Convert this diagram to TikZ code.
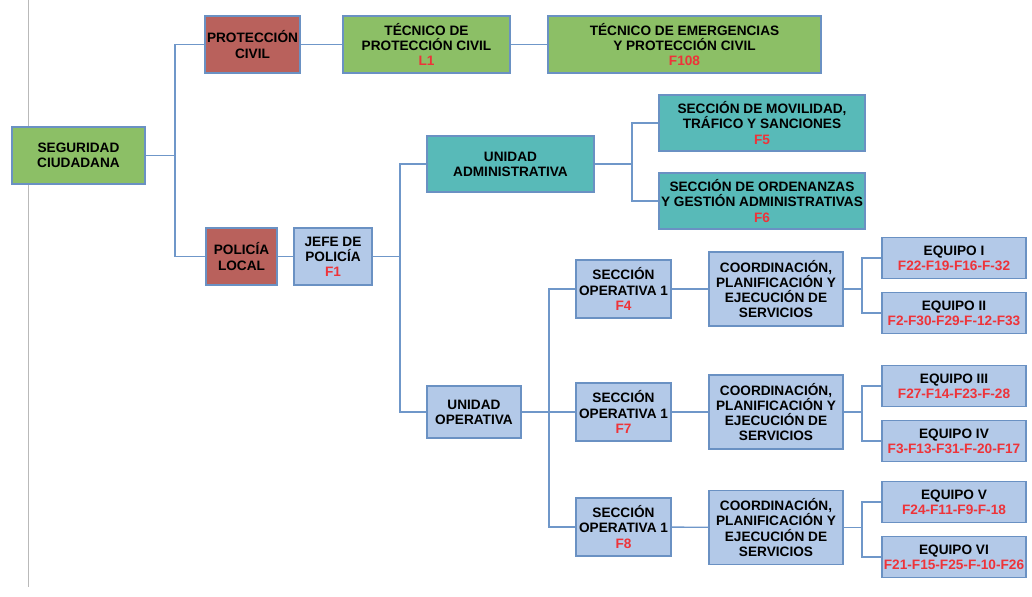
\documentclass[tikz,border=0pt]{standalone}
\usepackage{fontspec}
\setmainfont{Liberation Sans}
\usepackage{tikz}

\definecolor{boxline}{HTML}{6A91C3}
\definecolor{wire}{HTML}{6F97C9}
\definecolor{greenfill}{HTML}{8CBF66}
\definecolor{redfill}{HTML}{B9615C}
\definecolor{tealfill}{HTML}{58BAB8}
\definecolor{bluefill}{HTML}{B3C9E8}
\definecolor{codered}{HTML}{EE3339}

\tikzset{
  box/.style={draw=boxline, line width=0.9pt, align=center, inner sep=0pt,
    font=\fontsize{9.7}{10.8}\selectfont\bfseries},
  greenbox/.style={box, fill=greenfill},
  redbox/.style={box, fill=redfill},
  tealbox/.style={box, fill=tealfill},
  bluebox/.style={box, fill=bluefill},
  wireline/.style={draw=wire, line width=1pt}
}
\newcommand{\code}[1]{\textcolor{codered}{#1}}

\begin{document}
\begin{tikzpicture}[x=0.025cm, y=-0.025cm]
\useasboundingbox (0,0) rectangle (1032,597);

\draw[gray!55, line width=0.7pt] (28,0) -- (28,587);

\node[greenbox, minimum width=3.325cm, minimum height=1.425cm] (seguridad) at (78.5,155.5) {SEGURIDAD\\CIUDADANA};

\node[redbox, minimum width=2.375cm, minimum height=1.425cm] (proteccion) at (252.5,44.5) {PROTECCIÓN\\CIVIL};
\node[greenbox, minimum width=4.175cm, minimum height=1.425cm] (tecnico) at (426.5,44.5) {TÉCNICO DE\\PROTECCIÓN CIVIL\\\code{L1}};
\node[greenbox, minimum width=6.825cm, minimum height=1.425cm] (emergencias) at (684.5,44.5) {TÉCNICO DE EMERGENCIAS\\Y PROTECCIÓN CIVIL\\\code{F108}};

\node[redbox, minimum width=1.775cm, minimum height=1.425cm] (policia) at (241.5,256.5) {POLICÍA\\LOCAL};
\node[bluebox, minimum width=1.95cm, minimum height=1.425cm] (jefe) at (333,256.5) {JEFE DE\\POLICÍA\\\code{F1}};

\node[tealbox, minimum width=4.175cm, minimum height=1.4cm] (administrativa) at (510.5,164) {UNIDAD\\ADMINISTRATIVA};
\node[tealbox, minimum width=5.15cm, minimum height=1.4cm] (movilidad) at (762,123) {SECCIÓN DE MOVILIDAD,\\TRÁFICO Y SANCIONES\\\code{F5}};
\node[tealbox, minimum width=5.15cm, minimum height=1.4cm] (ordenanzas) at (762,201) {SECCIÓN DE ORDENANZAS\\Y GESTIÓN ADMINISTRATIVAS\\\code{F6}};

\node[bluebox, minimum width=2.35cm, minimum height=1.3cm] (operativa) at (474,412) {UNIDAD\\OPERATIVA};

% secciones operativas
\node[bluebox, minimum width=2.375cm, minimum height=1.45cm] (seccion a) at (623.5,289) {SECCIÓN\\OPERATIVA 1\\\code{F4}};
\node[bluebox, minimum width=2.375cm, minimum height=1.45cm] (seccion b) at (623.5,412) {SECCIÓN\\OPERATIVA 1\\\code{F7}};
\node[bluebox, minimum width=2.375cm, minimum height=1.45cm] (seccion c) at (623.5,527) {SECCIÓN\\OPERATIVA 1\\\code{F8}};

\node[bluebox, minimum width=3.35cm, minimum height=1.85cm] (coord a) at (776,289) {COORDINACIÓN,\\PLANIFICACIÓN Y\\EJECUCIÓN DE\\SERVICIOS};
\node[bluebox, minimum width=3.35cm, minimum height=1.85cm] (coord b) at (776,412) {COORDINACIÓN,\\PLANIFICACIÓN Y\\EJECUCIÓN DE\\SERVICIOS};
\node[bluebox, minimum width=3.35cm, minimum height=1.85cm] (coord c) at (776,527.5) {COORDINACIÓN,\\PLANIFICACIÓN Y\\EJECUCIÓN DE\\SERVICIOS};

% equipos
\node[bluebox, minimum width=3.6cm, minimum height=1.025cm] (equipo 1) at (954,258) {EQUIPO I\\\code{F22-F19-F16-F-32}};
\node[bluebox, minimum width=3.6cm, minimum height=1.025cm] (equipo 2) at (954,313) {EQUIPO II\\\code{F2-F30-F29-F-12-F33}};
\node[bluebox, minimum width=3.6cm, minimum height=1.025cm] (equipo 3) at (954,386) {EQUIPO III\\\code{F27-F14-F23-F-28}};
\node[bluebox, minimum width=3.6cm, minimum height=1.025cm] (equipo 4) at (954,441) {EQUIPO IV\\\code{F3-F13-F31-F-20-F17}};
\node[bluebox, minimum width=3.6cm, minimum height=1.025cm] (equipo 5) at (954,502) {EQUIPO V\\\code{F24-F11-F9-F-18}};
\node[bluebox, minimum width=3.6cm, minimum height=1.025cm] (equipo 6) at (954,557) {EQUIPO VI\\\code{F21-F15-F25-F-10-F26}};

% branch points
\coordinate (b seguridad) at (175,155.5);
\coordinate (b jefe) at (400,256.5);
\coordinate (b admin) at (632,164);
\coordinate (b operativa) at (549,412);
\coordinate (b coord a) at (862,289);
\coordinate (b coord b) at (862,412);
\coordinate (b coord c) at (862,527.5);

\draw[wireline] (seguridad) -- (b seguridad);
\draw[wireline] (proteccion.west) -| (b seguridad) |- (policia.west);
\draw[wireline] (proteccion) -- (tecnico);
\draw[wireline] (tecnico) -- (emergencias);
\draw[wireline] (policia) -- (jefe);

\draw[wireline] (jefe) -- (b jefe);
\draw[wireline] (administrativa.west) -| (b jefe) |- (operativa.west);
\draw[wireline] (administrativa) -- (b admin);
\draw[wireline] (movilidad.west) -| (b admin) |- (ordenanzas.west);

\draw[wireline] (operativa) -- (seccion b);
\draw[wireline] (seccion a.west) -| (b operativa) |- (seccion c.west);

\draw[wireline] (seccion a) -- (coord a);
\draw[wireline] (seccion b) -- (coord b);
\draw[wireline] (seccion c) -- (coord c);

\draw[wireline] (coord a) -- (b coord a);
\draw[wireline] (equipo 1.west) -| (b coord a) |- (equipo 2.west);
\draw[wireline] (coord b) -- (b coord b);
\draw[wireline] (equipo 3.west) -| (b coord b) |- (equipo 4.west);
\draw[wireline] (coord c) -- (b coord c);
\draw[wireline] (equipo 5.west) -| (b coord c) |- (equipo 6.west);
\end{tikzpicture}
\end{document}
